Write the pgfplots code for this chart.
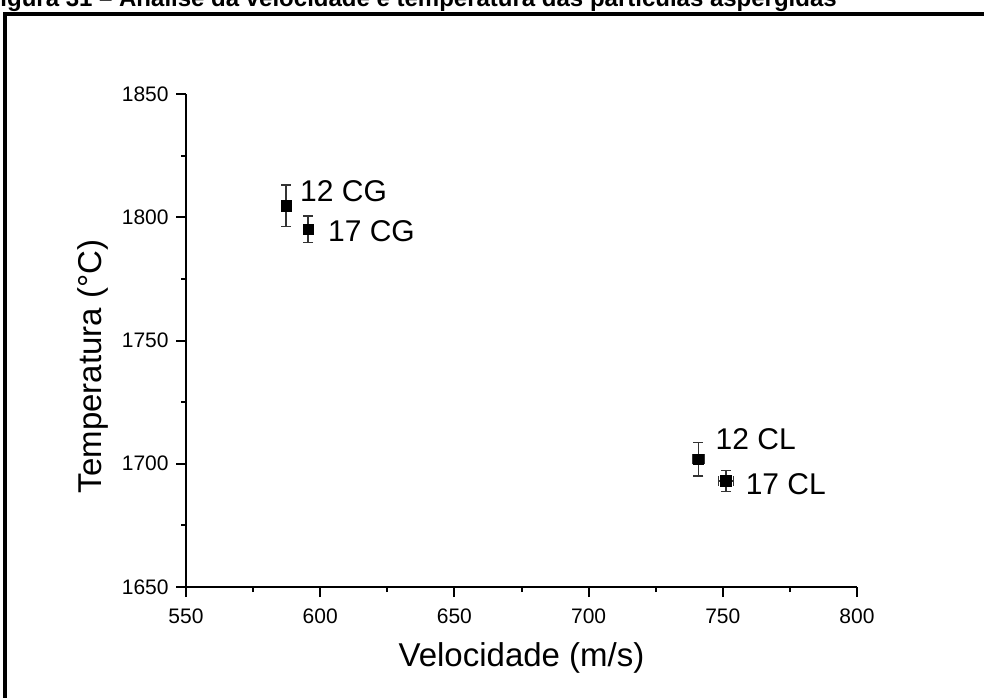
\documentclass[border=0pt]{standalone}
\usepackage{fontspec}
\setmainfont{Liberation Sans}
\usepackage{pgfplots}
\pgfplotsset{compat=1.18}

\begin{document}
\begin{tikzpicture}
% picture is 984x697 px, 1 px = 0.5pt
\clip (0,0) rectangle (492pt,348.5pt);
\draw[line width=1.75pt] (2.5pt,-20pt) -- (2.5pt,341.4pt) -- (520pt,341.4pt);
\node[anchor=base west, inner sep=0, font=\bfseries\fontsize{12}{14}\selectfont]
  at (-7.3pt,345.3pt) {Figura 31 – Análise da velocidade e temperatura das partículas aspergidas};
\begin{axis}[
  at={(93pt,55pt)}, anchor=south west,
  scale only axis, width=335.5pt, height=246.5pt,
  xmin=550, xmax=800, ymin=1650, ymax=1850,
  axis x line*=bottom, axis y line*=left,
  axis line style={-, line width=1pt},
  every outer x axis line/.append style={-},
  every outer y axis line/.append style={-},
  xtick={550,600,...,800}, ytick={1650,1700,...,1850},
  minor x tick num=1, minor y tick num=1,
  tick align=outside,
  major tick length=5pt, minor tick length=2.5pt,
  every tick/.style={black, line width=1pt},
  /pgf/number format/assume math mode=true,
  /pgf/number format/1000 sep={},
  xticklabel style={font=\fontsize{10.5}{12}\selectfont, anchor=base, inner sep=0, yshift=-13pt},
  yticklabel style={font=\fontsize{10.5}{12}\selectfont, anchor=east, inner sep=0, xshift=-3.5pt},
  xlabel={Velocidade (m/s)},
  xlabel style={at={(axis description cs:0.5,-0.1617)}, anchor=base, inner sep=0, font=\fontsize{16.5}{19}\selectfont},
  ylabel={Temperatura (°C)},
  ylabel style={at={(axis description cs:-0.1256,0.447)}, anchor=base, inner sep=0, font=\fontsize{16.5}{19}\selectfont},
  clip=false,
]
\addplot+[only marks, black, mark=square*, mark size=2.6pt, mark options={fill=black, draw=black},
  error bars/.cd, x dir=both, x explicit, y dir=both, y explicit,
  error bar style={line width=0.7pt, color=black!80},
  error mark options={rotate=90, mark size=2.5pt, line width=0.7pt, color=black!80}]
coordinates {
  (587.3,1804.6) +- (0.8,8.45)
  (595.5,1795.1) +- (0.8,5.4)
  (740.9,1701.8) +- (2.2,6.8)
  (751.2,1693.0) +- (2.8,4.3)
};
\node[anchor=base west, inner sep=0, font=\fontsize{15}{18}\selectfont] at (axis cs:592.4,1806.3) {12 CG};
\node[anchor=base west, inner sep=0, font=\fontsize{15}{18}\selectfont] at (axis cs:602.8,1790.1) {17 CG};
\node[anchor=base west, inner sep=0, font=\fontsize{15}{18}\selectfont] at (axis cs:747.2,1705.9) {12 CL};
\node[anchor=base west, inner sep=0, font=\fontsize{15}{18}\selectfont] at (axis cs:758.4,1687.7) {17 CL};
\end{axis}
\end{tikzpicture}
\end{document}
